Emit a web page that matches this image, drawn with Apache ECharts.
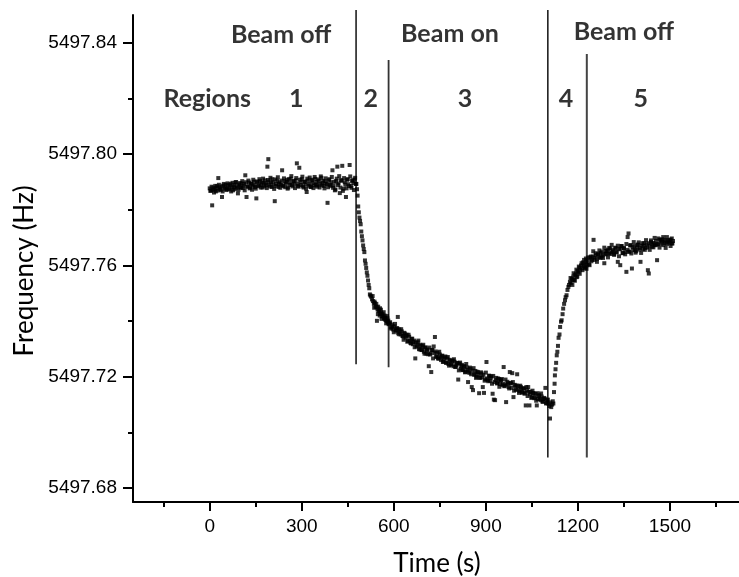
<!DOCTYPE html>
<html>
<head>
<meta charset="utf-8">
<script src="https://cdn.jsdelivr.net/npm/echarts@6/dist/echarts.min.js"></script>
<style>
html,body{margin:0;padding:0;background:#fff;}
#chart{width:739px;height:577px;}
</style>
</head>
<body>
<div id="chart"></div>
<script>
// ---- data ----
const xTickLabels = [0, 300, 600, 900, 1200, 1500];
const xMinorTicks = [-150, 150, 450, 750, 1050, 1350, 1650];
const yTickLabels = [5497.68, 5497.72, 5497.76, 5497.80, 5497.84];
const yMinorTicks = [5497.70, 5497.74, 5497.78, 5497.82];

// Region 1 : beam off
const region1 = [
[0,5497.7877],[4,5497.7869],[8,5497.7816],[12,5497.7880],[16,5497.7874],[20,5497.7866],[24,5497.7885],[28,5497.7914],
[32,5497.7880],[36,5497.7871],[40,5497.7846],[44,5497.7887],[48,5497.7876],[52,5497.7890],[56,5497.7875],[60,5497.7888],
[64,5497.7873],[68,5497.7893],[72,5497.7880],[76,5497.7870],[80,5497.7889],[84,5497.7898],[88,5497.7879],[92,5497.7859],
[96,5497.7891],[100,5497.7882],[104,5497.7895],[108,5497.7878],[112,5497.7893],[116,5497.7924],[120,5497.7846],[124,5497.7884],
[128,5497.7898],[132,5497.7880],[136,5497.7894],[140,5497.7886],[144,5497.7901],[148,5497.7882],[152,5497.7841],[156,5497.7899],
[160,5497.7888],[164,5497.7903],[168,5497.7890],[172,5497.7880],[176,5497.7897],[180,5497.7906],[184,5497.7889],[188,5497.7955],
[191,5497.7982],[192,5497.7901],[196,5497.7884],[200,5497.7898],[204,5497.7910],[208,5497.7887],[212,5497.7831],[216,5497.7893],
[220,5497.7904],[224,5497.7882],[228,5497.7899],[232,5497.7891],[236,5497.7942],[240,5497.7885],[244,5497.7903],[248,5497.7894],
[252,5497.7908],[256,5497.7880],[260,5497.7897],[264,5497.7912],[268,5497.7889],[272,5497.7902],[276,5497.7893],[280,5497.7906],
[284,5497.7967],[288,5497.7886],[292,5497.7951],[296,5497.7899],[300,5497.7910],[304,5497.7884],[308,5497.7902],[312,5497.7891],
[316,5497.7864],[320,5497.7905],[324,5497.7893],[328,5497.7883],[332,5497.7908],[336,5497.7896],[340,5497.7888],[344,5497.7911],
[348,5497.7900],[352,5497.7888],[356,5497.7904],[360,5497.7893],[364,5497.7915],[368,5497.7897],[372,5497.7886],[376,5497.7902],
[380,5497.7894],[384,5497.7825],[388,5497.7906],[392,5497.7890],[396,5497.7899],[400,5497.7942],[404,5497.7887],[408,5497.7870],
[412,5497.7903],[416,5497.7955],[420,5497.7895],[424,5497.7860],[428,5497.7907],[432,5497.7958],[436,5497.7876],[440,5497.7899],
[444,5497.7846],[448,5497.7908],[452,5497.7892],[456,5497.7961],[460,5497.7885],[464,5497.7904],[468,5497.7896],[472,5497.7909],
[476,5497.7893]
];
const region1More = [
[2,5497.7868],[6,5497.7883],[10,5497.7872],[14,5497.7862],[18,5497.7886],[22,5497.7878],[26,5497.7869],[30,5497.7890],
[34,5497.7875],[38,5497.7884],[42,5497.7866],[46,5497.7893],[50,5497.7880],[54,5497.7871],[58,5497.7895],[62,5497.7877],
[66,5497.7888],[70,5497.7866],[74,5497.7897],[78,5497.7882],[82,5497.7874],[86,5497.7900],[90,5497.7885],[94,5497.7872],
[98,5497.7896],[102,5497.7879],[106,5497.7903],[110,5497.7886],[114,5497.7870],[118,5497.7899],[122,5497.7883],[126,5497.7905],
[130,5497.7877],[134,5497.7893],[138,5497.7872],[142,5497.7908],[146,5497.7889],[150,5497.7876],[154,5497.7902],[158,5497.7885],
[162,5497.7910],[166,5497.7880],[170,5497.7898],[174,5497.7912],[178,5497.7884],[182,5497.7894],[186,5497.7878],[190,5497.7907],
[194,5497.7890],[198,5497.7915],[202,5497.7882],[206,5497.7899],[210,5497.7875],[214,5497.7909],[218,5497.7886],[222,5497.7917],
[226,5497.7893],[230,5497.7879],[234,5497.7905],[238,5497.7888],[242,5497.7913],[246,5497.7881],[250,5497.7900],[254,5497.7876],
[258,5497.7910],[262,5497.7890],[266,5497.7921],[270,5497.7884],[274,5497.7903],[278,5497.7878],[282,5497.7914],[286,5497.7893],
[290,5497.7883],[294,5497.7908],[298,5497.7889],[302,5497.7919],[306,5497.7880],[310,5497.7900],[314,5497.7876],[318,5497.7912],
[322,5497.7887],[326,5497.7916],[330,5497.7882],[334,5497.7905],[338,5497.7878],[342,5497.7918],[346,5497.7891],[350,5497.7883],
[354,5497.7909],[358,5497.7880],[362,5497.7920],[366,5497.7888],[370,5497.7904],[374,5497.7877],[378,5497.7913],[382,5497.7892],
[386,5497.7881],[390,5497.7910],[394,5497.7886],[398,5497.7918],[402,5497.7879],[406,5497.7901],[410,5497.7873],[414,5497.7912],
[418,5497.7889],[422,5497.7921],[426,5497.7880],[430,5497.7904],[434,5497.7868],[438,5497.7914],[442,5497.7891],[446,5497.7877],
[450,5497.7910],[454,5497.7885],[458,5497.7920],[462,5497.7879],[466,5497.7906],[470,5497.7871],[474,5497.7915]
];

// Region 2 : beam on, fast drop
const region2 = [
[478,5497.7893],[480,5497.7874],[482,5497.7851],[484,5497.7812],[486,5497.7791],[488,5497.7772],[490,5497.7760],[492,5497.7748],
[494,5497.7722],[496,5497.7705],[498,5497.7690],[500,5497.7672],[502,5497.7659],[504,5497.7648],[506,5497.7618],[508,5497.7606],
[510,5497.7591],[512,5497.7575],[514,5497.7563],[516,5497.7546],[518,5497.7530],[520,5497.7518],[522,5497.7496],[524,5497.7492],
[526,5497.7488],[529,5497.7478],[532,5497.7472],[535,5497.7462],[536,5497.7448],[538,5497.7465],[541,5497.7452],[544,5497.7450],
[545,5497.7401],[547,5497.7442],[548,5497.7425],[550,5497.7437],[553,5497.7435],[555,5497.7446],[556,5497.7426],[559,5497.7430],
[560,5497.7408],[562,5497.7417],[565,5497.7418],[568,5497.7410],[570,5497.7420],[571,5497.7406],[574,5497.7404],[575,5497.7392],
[577,5497.7400],[579,5497.7410],[580,5497.7395],[583,5497.7389],
[531,5497.7490],[537,5497.7470],[543,5497.7462],[549,5497.7452],[554,5497.7420],[558,5497.7441],[563,5497.7425],[567,5497.7432],
[572,5497.7412],[578,5497.7418],[582,5497.7402]
];

// Region 3 : beam on, slow drift
const region3 = [
[586,5497.7392],[590,5497.7377],[594,5497.7388],[598,5497.7370],[602,5497.7381],[606,5497.7366],[610,5497.7375],[613,5497.7415],
[614,5497.7358],[618,5497.7370],[622,5497.7352],[626,5497.7363],[630,5497.7346],[634,5497.7358],[638,5497.7340],[642,5497.7351],
[646,5497.7329],[650,5497.7344],[654,5497.7322],[658,5497.7336],[662,5497.7317],[666,5497.7330],[670,5497.7266],[674,5497.7309],
[678,5497.7324],[682,5497.7300],[686,5497.7315],[690,5497.7296],[694,5497.7310],[698,5497.7290],[702,5497.7305],[706,5497.7283],
[710,5497.7298],[714,5497.7238],[718,5497.7280],[722,5497.7217],[726,5497.7296],[730,5497.7309],[734,5497.7343],[738,5497.7272],
[742,5497.7286],[746,5497.7265],[750,5497.7280],[754,5497.7260],[758,5497.7276],[762,5497.7255],[766,5497.7270],[770,5497.7250],
[774,5497.7266],[778,5497.7246],[782,5497.7261],[786,5497.7243],[790,5497.7258],[794,5497.7238],[798,5497.7254],[802,5497.7236],
[806,5497.7250],[810,5497.7190],[814,5497.7247],[818,5497.7229],[822,5497.7243],[826,5497.7224],[830,5497.7238],[834,5497.7218],
[838,5497.7233],[842,5497.7181],[846,5497.7214],[850,5497.7229],[854,5497.7163],[858,5497.7152],[862,5497.7207],[866,5497.7221],
[870,5497.7200],[874,5497.7216],[878,5497.7141],[882,5497.7197],[886,5497.7212],[890,5497.7163],[894,5497.7142],[898,5497.7191],
[902,5497.7253],[906,5497.7188],[910,5497.7204],[914,5497.7186],[918,5497.7201],[922,5497.7139],[926,5497.7118],[930,5497.7116],
[934,5497.7196],[938,5497.7178],[942,5497.7192],[946,5497.7174],[950,5497.7188],[954,5497.7170],[958,5497.7235],[962,5497.7168],
[966,5497.7109],[970,5497.7182],[974,5497.7163],[978,5497.7217],[982,5497.7176],[986,5497.7213],[990,5497.7127],[994,5497.7171],
[998,5497.7153],[1002,5497.7209],[1006,5497.7166],[1010,5497.7148],[1014,5497.7163],[1018,5497.7144],[1022,5497.7158],[1026,5497.7139],
[1030,5497.7097],[1034,5497.7151],[1038,5497.7163],[1042,5497.7097],[1046,5497.7146],[1050,5497.7127],[1054,5497.7141],[1058,5497.7123],
[1062,5497.7138],[1066,5497.7097],[1070,5497.7120],[1074,5497.7134],[1078,5497.7116],[1082,5497.7129],[1086,5497.7110],[1090,5497.7124],
[1094,5497.7160],[1098,5497.7106],[1102,5497.7118]
];
const region3More = [
[588,5497.7396],[592,5497.7373],[596,5497.7381],[600,5497.7360],[604,5497.7390],[608,5497.7367],[612,5497.7373],[616,5497.7353],
[620,5497.7362],[624,5497.7371],[628,5497.7347],[632,5497.7333],[636,5497.7355],[640,5497.7346],[644,5497.7326],[648,5497.7351],
[652,5497.7329],[656,5497.7320],[660,5497.7337],[664,5497.7325],[668,5497.7306],[672,5497.7323],[676,5497.7313],[680,5497.7330],
[684,5497.7298],[688,5497.7311],[692,5497.7297],[696,5497.7315],[700,5497.7283],[704,5497.7305],[708,5497.7295],[712,5497.7281],
[716,5497.7305],[720,5497.7284],[724,5497.7296],[728,5497.7266],[732,5497.7285],[736,5497.7291],[740,5497.7272],[744,5497.7266],
[748,5497.7290],[752,5497.7269],[756,5497.7274],[760,5497.7253],[764,5497.7265],[768,5497.7273],[772,5497.7251],[776,5497.7271],
[780,5497.7240],[784,5497.7257],[788,5497.7245],[792,5497.7258],[796,5497.7263],[800,5497.7235],[804,5497.7241],[808,5497.7249],
[812,5497.7223],[816,5497.7251],[820,5497.7238],[824,5497.7224],[828,5497.7237],[832,5497.7216],[836,5497.7246],[840,5497.7225],
[844,5497.7218],[848,5497.7233],[852,5497.7209],[856,5497.7222],[860,5497.7231],[864,5497.7209],[868,5497.7196],[872,5497.7218],
[876,5497.7208],[880,5497.7196],[884,5497.7216],[888,5497.7198],[892,5497.7207],[896,5497.7186],[900,5497.7215],[904,5497.7194],
[908,5497.7184],[912,5497.7203],[916,5497.7196],[920,5497.7175],[924,5497.7203],[928,5497.7181],[932,5497.7188],[936,5497.7176],
[940,5497.7194],[944,5497.7164],[948,5497.7187],[952,5497.7192],[956,5497.7174],[960,5497.7166],[964,5497.7190],[968,5497.7172],
[972,5497.7177],[976,5497.7158],[980,5497.7178],[984,5497.7160],[988,5497.7181],[992,5497.7150],[996,5497.7166],[1000,5497.7169],
[1004,5497.7155],[1008,5497.7142],[1012,5497.7168],[1016,5497.7155],[1020,5497.7143],[1024,5497.7159],[1028,5497.7143],[1032,5497.7163],
[1036,5497.7131],[1040,5497.7146],[1044,5497.7137],[1048,5497.7124],[1052,5497.7150],[1056,5497.7141],[1060,5497.7125],[1064,5497.7114],
[1068,5497.7141],[1072,5497.7131],[1076,5497.7121],[1080,5497.7140],[1084,5497.7111],[1088,5497.7120],[1092,5497.7121],[1096,5497.7104],
[1100,5497.7116]
];

// Region 4 : beam off, fast recovery
const region4 = [
[1104,5497.7103],[1107,5497.7095],[1109,5497.7050],[1110,5497.7108],[1113,5497.7091],[1116,5497.7100],[1118,5497.7112],[1120,5497.7104],
[1122,5497.7145],[1124,5497.7175],[1125,5497.7205],[1127,5497.7227],[1129,5497.7250],[1131,5497.7277],[1133,5497.7290],[1135,5497.7311],
[1137,5497.7340],[1140,5497.7352],[1142,5497.7379],[1145,5497.7398],[1147,5497.7403],[1150,5497.7425],[1152,5497.7445],[1155,5497.7462],
[1158,5497.7475],[1160,5497.7486],[1163,5497.7493],[1166,5497.7512],[1169,5497.7523],[1171,5497.7530],[1174,5497.7541],[1177,5497.7536],
[1180,5497.7552],[1183,5497.7547],[1185,5497.7560],[1188,5497.7548],[1191,5497.7566],[1194,5497.7571],[1196,5497.7558],[1199,5497.7580],
[1202,5497.7575],[1205,5497.7592],[1207,5497.7584],[1210,5497.7600],[1213,5497.7590],[1216,5497.7611],[1218,5497.7598],[1221,5497.7606],
[1224,5497.7594],[1227,5497.7612],[1229,5497.7601],
[1176,5497.7555],[1182,5497.7530],[1186,5497.7572],[1190,5497.7545],[1195,5497.7585],[1198,5497.7560],[1203,5497.7596],[1206,5497.7570],
[1212,5497.7608],[1215,5497.7583],[1220,5497.7620],[1223,5497.7590],[1226,5497.7625],[1228,5497.7588]
];

// Region 5 : beam off, slow recovery
const region5 = [
[1232,5497.7617],[1236,5497.7604],[1240,5497.7628],[1244,5497.7615],[1248,5497.7632],[1251,5497.7692],[1254,5497.7620],[1258,5497.7637],
[1262,5497.7624],[1266,5497.7641],[1270,5497.7628],[1274,5497.7645],[1278,5497.7632],[1282,5497.7639],[1286,5497.7608],[1290,5497.7652],
[1294,5497.7640],[1298,5497.7657],[1302,5497.7644],[1306,5497.7661],[1310,5497.7647],[1314,5497.7655],[1318,5497.7641],[1322,5497.7664],
[1326,5497.7649],[1330,5497.7613],[1334,5497.7660],[1338,5497.7601],[1342,5497.7669],[1346,5497.7645],[1350,5497.7662],[1354,5497.7648],
[1358,5497.7577],[1362,5497.7702],[1365,5497.7715],[1368,5497.7650],[1372,5497.7673],[1376,5497.7589],[1380,5497.7655],[1384,5497.7670],
[1388,5497.7646],[1392,5497.7664],[1396,5497.7675],[1400,5497.7657],[1404,5497.7613],[1408,5497.7671],[1412,5497.7659],[1416,5497.7680],
[1420,5497.7663],[1424,5497.7676],[1428,5497.7583],[1431,5497.7571],[1434,5497.7670],[1438,5497.7684],[1442,5497.7667],[1446,5497.7681],
[1450,5497.7673],[1454,5497.7688],[1458,5497.7619],[1462,5497.7676],[1466,5497.7692],[1470,5497.7678],[1474,5497.7686],[1478,5497.7702],
[1482,5497.7680],[1486,5497.7691],[1490,5497.7677],[1494,5497.7689],[1498,5497.7682],[1502,5497.7693],[1506,5497.7679],[1510,5497.7688]
];
const region5More = [
[1234,5497.7629],[1238,5497.7601],[1242,5497.7632],[1246,5497.7620],[1250,5497.7651],[1254,5497.7628],[1258,5497.7644],[1262,5497.7613],
[1266,5497.7639],[1270,5497.7654],[1274,5497.7628],[1278,5497.7650],[1282,5497.7627],[1286,5497.7664],[1290,5497.7642],[1294,5497.7652],
[1298,5497.7629],[1302,5497.7663],[1306,5497.7641],[1310,5497.7674],[1314,5497.7650],[1318,5497.7638],[1322,5497.7662],[1326,5497.7647],
[1330,5497.7671],[1334,5497.7633],[1338,5497.7658],[1342,5497.7670],[1346,5497.7644],[1350,5497.7662],[1354,5497.7640],[1358,5497.7677],
[1362,5497.7656],[1366,5497.7649],[1370,5497.7672],[1374,5497.7643],[1378,5497.7666],[1382,5497.7684],[1386,5497.7656],[1390,5497.7651],
[1394,5497.7674],[1398,5497.7683],[1402,5497.7663],[1406,5497.7645],[1410,5497.7680],[1414,5497.7671],[1418,5497.7656],[1422,5497.7691],
[1426,5497.7665],[1430,5497.7680],[1434,5497.7656],[1438,5497.7690],[1442,5497.7678],[1446,5497.7665],[1450,5497.7699],[1454,5497.7673],
[1458,5497.7677],[1462,5497.7697],[1466,5497.7664],[1470,5497.7691],[1474,5497.7694],[1478,5497.7673],[1482,5497.7687],[1486,5497.7663],
[1490,5497.7702],[1494,5497.7683],[1498,5497.7691],[1502,5497.7670],[1506,5497.7697],[1508,5497.7679]
];

// Vertical separators: time, top, bottom
const separators = [
  [477, 5497.8518, 5497.7245],
  [583, 5497.8338, 5497.7234],
  [1102, 5497.8518, 5497.6910],
  [1229, 5497.8360, 5497.6910]
];
const separatorColors = ['#111', '#333', '#111', '#444'];
const separatorWidths = [1.5, 1.8, 1.5, 2];

// Text annotations
const beamLabels = [
  ['Beam off', 233, 5497.8428],
  ['Beam on', 783, 5497.8431],
  ['Beam off', 1350, 5497.8438]
];
const regionLabels = [
  ['Regions', -8, 5497.8200],
  ['1', 282, 5497.8200],
  ['2', 525, 5497.8200],
  ['3', 832, 5497.8200],
  ['4', 1161, 5497.8200],
  ['5', 1405, 5497.8200]
];

// ---- chart ----
const chart = echarts.init(document.getElementById('chart'));
const xMin = -250, xMax = 1725, yMin = 5497.675, yMax = 5497.85;
const labelFont = 'Liberation Sans, Arial, sans-serif';

const series = [];
[region1, region1More, region2, region3, region3More, region4, region5, region5More].forEach(function (d) {
  series.push({
    type: 'scatter', data: d, symbol: 'rect', symbolSize: 4,
    itemStyle: { color: '#000' }, xAxisIndex: 0, yAxisIndex: 0, z: 3
  });
});
separators.forEach(function (s, i) {
  series.push({
    type: 'line', data: [[s[0], s[1]], [s[0], s[2]]], symbol: 'none', clip: false,
    lineStyle: { color: separatorColors[i], width: separatorWidths[i] }, z: 2, silent: true
  });
});
series.push({
  type: 'scatter', symbolSize: 0, z: 5, silent: true,
  data: beamLabels.concat(regionLabels).map(function (a) { return { name: a[0], value: [a[1], a[2]] }; }),
  label: {
    show: true, position: 'inside', formatter: '{b}', color: '#000',
    fontFamily: 'Lato', fontWeight: 'bold', fontSize: 25
  }
});

chart.setOption({
  animation: false,
  backgroundColor: '#fff',
  grid: { left: 133, right: 0, top: 15, bottom: 75 },
  xAxis: [
    {
      type: 'value', min: xMin, max: xMax, position: 'bottom',
      axisLine: { show: true, onZero: false, lineStyle: { color: '#000', width: 2 } },
      axisTick: { show: true, customValues: xTickLabels, length: 9, lineStyle: { color: '#000', width: 2 } },
      axisLabel: { customValues: xTickLabels, color: '#000', fontSize: 19, fontFamily: labelFont, margin: 15,
        formatter: function (v) { return String(v); } },
      splitLine: { show: false }
    },
    {
      type: 'value', min: xMin, max: xMax, position: 'bottom',
      axisLine: { show: false, onZero: false },
      axisTick: { show: true, customValues: xMinorTicks, length: 5, lineStyle: { color: '#000', width: 2 } },
      axisLabel: { show: false },
      splitLine: { show: false }
    }
  ],
  yAxis: [
    {
      type: 'value', min: yMin, max: yMax, position: 'left',
      axisLine: { show: true, onZero: false, lineStyle: { color: '#000', width: 2 } },
      axisTick: { show: true, customValues: yTickLabels, length: 10, lineStyle: { color: '#000', width: 2 } },
      axisLabel: { customValues: yTickLabels, color: '#000', fontSize: 19, fontFamily: labelFont, margin: 16,
        formatter: function (v) { return v.toFixed(2); } },
      splitLine: { show: false }
    },
    {
      type: 'value', min: yMin, max: yMax, position: 'left',
      axisLine: { show: false, onZero: false },
      axisTick: { show: true, customValues: yMinorTicks, length: 5, lineStyle: { color: '#000', width: 2 } },
      axisLabel: { show: false },
      splitLine: { show: false }
    }
  ],
  graphic: [
    { type: 'text', x: 437, y: 551,
      style: { text: 'Time (s)', font: '26px Lato', fill: '#000', textAlign: 'center' } },
    { type: 'text', x: 12, y: 271, rotation: Math.PI / 2,
      style: { text: 'Frequency (Hz)', font: '26px Lato', fill: '#000', textAlign: 'center', textVerticalAlign: 'top' } }
  ],
  series: series
});
</script>
</body>
</html>
